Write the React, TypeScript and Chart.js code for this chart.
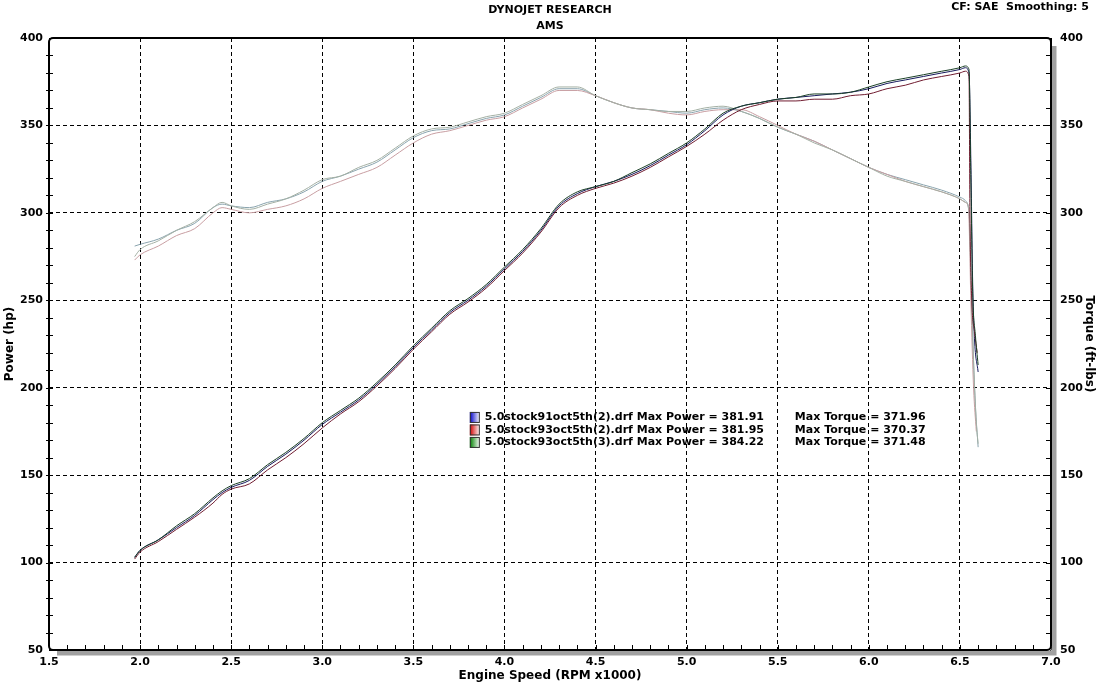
import React, { useEffect, useRef } from 'react';
import Chart from 'chart.js/auto';

// engine speed (RPM x1000) shared by the main part of every run
const rpm = [1.97, 2.0, 2.1, 2.2, 2.3, 2.4, 2.45, 2.5, 2.6, 2.7, 2.8, 2.9, 3.0, 3.1, 3.2, 3.3, 3.4, 3.5, 3.6, 3.7, 3.8, 3.9, 4.0, 4.1, 4.2, 4.3, 4.4, 4.5, 4.6, 4.7, 4.8, 4.9, 5.0, 5.1, 5.2, 5.3, 5.4, 5.5, 5.6, 5.7, 5.8, 5.9, 6.0, 6.1, 6.2, 6.3, 6.4, 6.5, 6.53];

// power (hp)
const power91_2 = [103, 107, 113, 120, 127, 136, 140, 143, 147, 155, 162, 170, 179, 186, 193, 202, 212, 223, 233, 243, 250, 258, 268, 278, 290, 304, 311, 315, 318, 322, 327, 333, 339, 347, 356, 361, 363, 365, 366, 367, 368, 369, 371, 374, 376, 378, 380, 382, 383];
const power93_2 = [102, 106, 112, 119, 126, 134, 139, 142, 145, 153, 160, 168, 177, 185, 192, 201, 211, 222, 232, 242, 249, 257, 267, 277, 289, 303, 310, 314, 317, 321, 326, 332, 338, 345, 353, 359, 362, 364, 364, 365, 365, 367, 368, 371, 373, 376, 378, 380, 381];
const power93_3 = [103, 107, 113, 121, 128, 137, 141, 144, 148, 156, 163, 171, 180, 187, 194, 203, 213, 224, 234, 244, 251, 259, 269, 279, 291, 305, 312, 315, 318, 323, 328, 334, 340, 348, 357, 361, 363, 365, 366, 368, 368, 369, 372, 375, 377, 379, 381, 383, 384];

// torque (ft-lbs)
const torque91_2 = [281, 282, 285, 290, 294, 303, 305, 304, 303, 306, 308, 312, 318, 321, 325, 329, 336, 343, 347, 348, 351, 354, 356, 361, 366, 371, 371, 367, 363, 360, 359, 358, 357, 359, 360, 358, 354, 349, 345, 341, 336, 331, 326, 322, 319, 316, 313, 309, 307];
const torque93_2 = [273, 276, 281, 287, 291, 300, 303, 302, 300, 302, 304, 308, 314, 318, 322, 326, 333, 340, 345, 347, 350, 353, 355, 360, 365, 370, 370, 367, 363, 360, 359, 357, 356, 358, 359, 359, 355, 350, 345, 341, 336, 331, 326, 322, 318, 315, 312, 308, 306];
const torque93_3 = [275, 279, 284, 290, 295, 303, 306, 304, 302, 305, 308, 313, 319, 321, 326, 330, 337, 344, 348, 349, 352, 355, 357, 362, 367, 372, 372, 367, 363, 360, 359, 358, 358, 360, 361, 358, 354, 349, 345, 340, 336, 331, 326, 321, 318, 315, 312, 308, 306];

// the drop at the end of each pull
const powerTailRpm91_2 = [6.55, 6.56, 6.57, 6.58, 6.6];
const powerTail91_2 = [380, 330, 260, 228, 209];
const powerTailRpm93_2 = [6.55, 6.555, 6.565, 6.58, 6.595];
const powerTail93_2 = [378, 300, 250, 232, 220];
const powerTailRpm93_3 = [6.55, 6.56, 6.57, 6.585, 6.6];
const powerTail93_3 = [382, 320, 255, 230, 213];
const torqueTailRpm91_2 = [6.55, 6.56, 6.57, 6.585, 6.6];
const torqueTail91_2 = [300, 270, 230, 190, 166];
const torqueTailRpm93_2 = [6.545, 6.55, 6.56, 6.575, 6.59];
const torqueTail93_2 = [304, 296, 250, 200, 175];
const torqueTailRpm93_3 = [6.55, 6.56, 6.575, 6.59, 6.6];
const torqueTail93_3 = [302, 265, 215, 180, 168];

// legend
const runFiles = ['5.0stock91oct5th(2).drf', '5.0stock93oct5th(2).drf', '5.0stock93oct5th(3).drf'];
const maxPower = ['381.91', '381.95', '384.22'];
const maxTorque = ['371.96', '370.37', '371.48'];
const runColors = ['#0000c8', '#d00000', '#008000'];

const FONT = 'DejaVu Sans, Verdana, sans-serif';

const toPoints = (xs: number[], ys: number[], tx: number[], ty: number[]) =>
  xs.map((x, i) => ({ x, y: ys[i] })).concat(tx.map((x, i) => ({ x, y: ty[i] })));

const dynoPlugin = {
  id: 'dynoFrame',
  afterDraw(chart: any) {
    const { ctx, chartArea } = chart;
    const { left, right, top, bottom } = chartArea;
    const xs = chart.scales.x;
    const ys = chart.scales.y;
    ctx.save();

    // header text
    ctx.fillStyle = '#000';
    ctx.font = `bold 11px ${FONT}`;
    ctx.textAlign = 'center';
    ctx.textBaseline = 'middle';
    ctx.fillText('DYNOJET RESEARCH', 550, 10);
    ctx.fillText('AMS', 550, 26);
    ctx.textAlign = 'right';
    ctx.fillText('CF: SAE  Smoothing: 5', 1089, 7);

    // shadow on right and bottom
    ctx.strokeStyle = '#a0a0a0';
    ctx.lineWidth = 5;
    ctx.beginPath();
    ctx.moveTo(right + 3, top + 8);
    ctx.lineTo(right + 3, bottom + 3);
    ctx.lineTo(left + 8, bottom + 3);
    ctx.stroke();

    // frame
    const r = 4;
    ctx.strokeStyle = '#000';
    ctx.lineWidth = 2;
    ctx.beginPath();
    ctx.moveTo(left + r, top);
    ctx.lineTo(right - r, top);
    ctx.arcTo(right, top, right, top + r, r);
    ctx.lineTo(right, bottom - r);
    ctx.arcTo(right, bottom, right - r, bottom, r);
    ctx.lineTo(left + r, bottom);
    ctx.arcTo(left, bottom, left, bottom - r, r);
    ctx.lineTo(left, top + r);
    ctx.arcTo(left, top, left + r, top, r);
    ctx.stroke();

    // minor ticks
    ctx.lineWidth = 1;
    ctx.beginPath();
    for (let v = 60; v < 400; v += 10) {
      const py = Math.round(ys.getPixelForValue(v)) + 0.5;
      ctx.moveTo(left - 3, py);
      ctx.lineTo(left + 4, py);
      ctx.moveTo(right - 5, py);
      ctx.lineTo(right, py);
    }
    for (let k = 16; k < 70; k++) {
      const px = Math.round(xs.getPixelForValue(k / 10)) + 0.5;
      ctx.moveTo(px, bottom - 5);
      ctx.lineTo(px, bottom);
    }
    ctx.stroke();

    // legend
    const lx = xs.getPixelForValue(3.81);
    const ly = ys.getPixelForValue(183);
    ctx.font = `bold 11px ${FONT}`;
    ctx.textAlign = 'left';
    ctx.textBaseline = 'middle';
    runFiles.forEach((name, i) => {
      const cy = ly + i * 12.5;
      const g = ctx.createLinearGradient(lx, 0, lx + 10, 0);
      g.addColorStop(0, runColors[i]);
      g.addColorStop(1, '#ffffff');
      ctx.fillStyle = g;
      ctx.fillRect(lx, cy - 5.5, 10, 11);
      ctx.strokeStyle = '#333';
      ctx.strokeRect(lx + 0.5, cy - 5, 9, 10);
      ctx.fillStyle = '#000';
      ctx.fillText(`${name} Max Power = ${maxPower[i]}`, lx + 15, cy);
      ctx.fillText(`Max Torque = ${maxTorque[i]}`, lx + 325, cy);
    });
    ctx.restore();
  },
};

const App: React.FC = () => {
  const canvasRef = useRef<HTMLCanvasElement>(null);

  useEffect(() => {
    if (!canvasRef.current) return;
    const ctx = canvasRef.current.getContext('2d');
    if (!ctx) return;

    const line = (data: any[], color: string, axis: string, order: number) => ({
      data,
      borderColor: color,
      borderWidth: 1,
      pointRadius: 0,
      cubicInterpolationMode: 'monotone' as const,
      yAxisID: axis,
      order,
    });

    const tickFont = { family: FONT, size: 11, weight: 'bold' as const };
    const titleFont = { family: FONT, size: 12, weight: 'bold' as const };

    const chart = new Chart(ctx, {
      type: 'line',
      data: {
        datasets: [
          line(toPoints(rpm, power91_2, powerTailRpm91_2, powerTail91_2), '#161a5c', 'y', 3),
          line(toPoints(rpm, power93_2, powerTailRpm93_2, powerTail93_2), '#701c30', 'y', 2),
          line(toPoints(rpm, power93_3, powerTailRpm93_3, powerTail93_3), '#1a4026', 'y', 1),
          line(toPoints(rpm, torque91_2, torqueTailRpm91_2, torqueTail91_2), '#8aa4ae', 'y2', 6),
          line(toPoints(rpm, torque93_2, torqueTailRpm93_2, torqueTail93_2), '#c89ea2', 'y2', 5),
          line(toPoints(rpm, torque93_3, torqueTailRpm93_3, torqueTail93_3), '#a4b0a4', 'y2', 4),
        ],
      },
      options: {
        responsive: false,
        animation: false,
        layout: { padding: { top: 38, left: 0, right: 0, bottom: 0 } },
        plugins: {
          legend: { display: false },
          tooltip: { enabled: false },
        },
        scales: {
          x: {
            type: 'linear',
            min: 1.5,
            max: 7.0,
            ticks: {
              stepSize: 0.5,
              color: '#000',
              font: tickFont,
              padding: 6,
              maxRotation: 0,
              callback: (v: any) => Number(v).toFixed(1),
            },
            grid: { color: '#000', lineWidth: 1, drawTicks: false },
            border: { display: false, dash: [4, 3] },
            title: {
              display: true,
              text: 'Engine Speed (RPM x1000)',
              color: '#000',
              font: titleFont,
              padding: { top: 0, bottom: 0 },
            },
            afterFit: (s: any) => { s.height = 33; },
          },
          y: {
            type: 'linear',
            position: 'left',
            min: 50,
            max: 400,
            ticks: { stepSize: 50, color: '#000', font: tickFont, padding: 6 },
            grid: { color: '#000', lineWidth: 1, drawTicks: false },
            border: { display: false, dash: [4, 3] },
            title: {
              display: true,
              text: 'Power (hp)',
              color: '#000',
              font: titleFont,
              padding: { top: 3, bottom: 0 },
            },
            afterFit: (s: any) => { s.width = 49; },
          },
          y2: {
            type: 'linear',
            position: 'right',
            min: 50,
            max: 400,
            ticks: { stepSize: 50, color: '#000', font: tickFont, padding: 9 },
            grid: { display: false, drawTicks: false },
            border: { display: false },
            title: {
              display: true,
              text: 'Torque (ft-lbs)',
              color: '#000',
              font: titleFont,
              padding: { top: 3, bottom: 0 },
            },
            afterFit: (s: any) => { s.width = 48; },
          },
        },
      },
      plugins: [dynoPlugin],
    });

    return () => {
      chart.destroy();
    };
  }, []);

  return (
    <div style={{ position: 'fixed', left: 0, top: 0, width: 1099, height: 683, background: '#fff' }}>
      <canvas ref={canvasRef} width={1099} height={683}></canvas>
    </div>
  );
};

export default App;
